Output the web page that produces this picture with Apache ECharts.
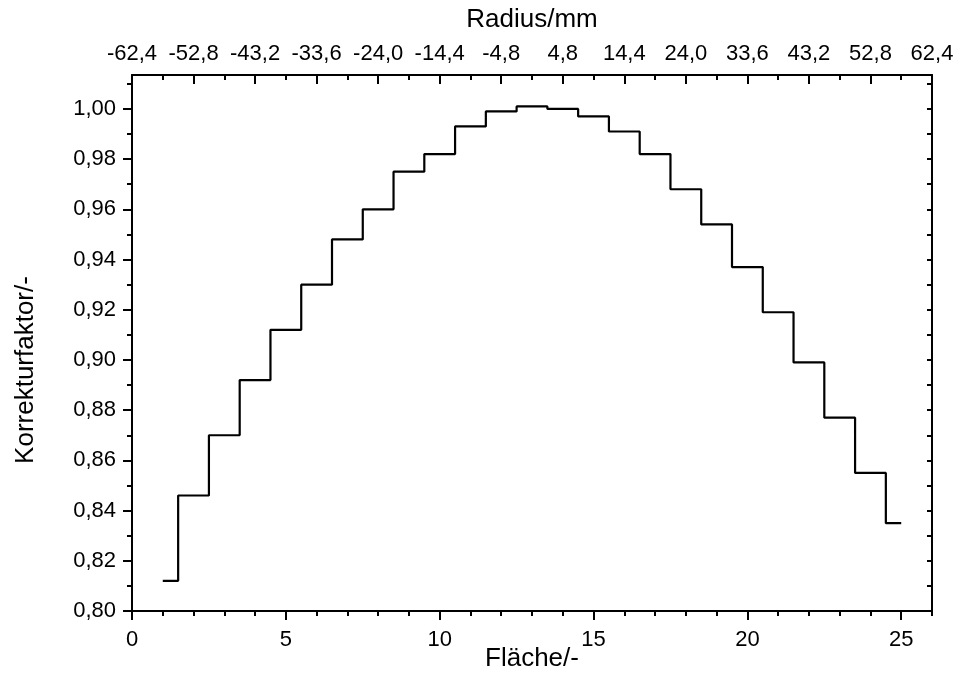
<!DOCTYPE html>
<html>
<head>
<meta charset="utf-8">
<script src="https://cdn.jsdelivr.net/npm/echarts@6/dist/echarts.min.js"></script>
<style>
  html, body { margin: 0; padding: 0; background: #fff; }
  #chart { width: 957px; height: 673px; }
</style>
</head>
<body>
<div id="chart"></div>
<script>
// ---- data ----
const flaeche = [1, 2, 3, 4, 5, 6, 7, 8, 9, 10, 11, 12, 13, 14, 15, 16, 17, 18, 19, 20, 21, 22, 23, 24, 25];
const korrekturfaktor = [0.812, 0.846, 0.870, 0.892, 0.912, 0.930, 0.948, 0.960, 0.975, 0.982,
                         0.993, 0.999, 1.001, 1.000, 0.997, 0.991, 0.982, 0.968, 0.954, 0.937,
                         0.919, 0.899, 0.877, 0.855, 0.835];
const radiusLabels = ['-62,4', '-52,8', '-43,2', '-33,6', '-24,0', '-14,4', '-4,8',
                      '4,8', '14,4', '24,0', '33,6', '43,2', '52,8', '62,4'];
const bottomMajorTicks = [0, 5, 10, 15, 20, 25];
const yMajorTicks = [0.80, 0.82, 0.84, 0.86, 0.88, 0.90, 0.92, 0.94, 0.96, 0.98, 1.00];
const yMinorTicks = [0.80, 0.81, 0.82, 0.83, 0.84, 0.85, 0.86, 0.87, 0.88, 0.89, 0.90, 0.91,
                     0.92, 0.93, 0.94, 0.95, 0.96, 0.97, 0.98, 0.99, 1.00, 1.01];

const X_MIN = 0, X_MAX = 26, Y_MIN = 0.80, Y_MAX = 1.0135;
const FONT = 'Arial, "Liberation Sans", sans-serif';
const black = '#000';
const TICK_FS = 22, TITLE_FS = 26;

const chart = echarts.init(document.getElementById('chart'), null, { renderer: 'canvas' });

function baseX(pos, extra) {
  return Object.assign({
    type: 'value', position: pos, min: X_MIN, max: X_MAX,
    splitLine: { show: false },
    axisLine: { show: false, lineStyle: { color: black, width: 2 } },
    axisTick: { show: false },
    axisLabel: { show: false },
    nameMoveOverlap: false
  }, extra);
}
function baseY(pos, extra) {
  return Object.assign({
    type: 'value', position: pos, min: Y_MIN, max: Y_MAX,
    splitLine: { show: false },
    axisLine: { show: false, lineStyle: { color: black, width: 2 } },
    axisTick: { show: false },
    axisLabel: { show: false },
    nameMoveOverlap: false
  }, extra);
}

const option = {
  animation: false,
  backgroundColor: '#fff',
  grid: { left: 132, right: 25, top: 75, bottom: 62, containLabel: false, outerBoundsMode: 'none' },
  xAxis: [
    // bottom: minor ticks + labels + name
    baseX('bottom', {
      interval: 1,
      axisLine: { show: true, onZero: false, lineStyle: { color: black, width: 2 } },
      axisTick: { show: true, inside: false, length: 5, lineStyle: { color: black, width: 2 } },
      axisLabel: {
        show: true, margin: 18, color: black, fontFamily: FONT, fontSize: TICK_FS,
        formatter: function (v) { return (Math.round(v) % 5 === 0 && v <= 25) ? String(Math.round(v)) : ''; }
      },
      name: 'Fläche/-', nameLocation: 'middle', nameGap: 35,
      nameTextStyle: { color: black, fontFamily: FONT, fontSize: TITLE_FS }
    }),
    // bottom: major ticks
    baseX('bottom', {
      interval: 5,
      axisTick: { show: true, inside: false, length: 9, customValues: bottomMajorTicks, lineStyle: { color: black, width: 2 } }
    }),
    // top: minor ticks
    baseX('top', {
      interval: 1,
      axisLine: { show: true, onZero: false, lineStyle: { color: black, width: 2 } },
      axisTick: { show: true, inside: true, length: 5, lineStyle: { color: black, width: 2 } }
    }),
    // top: major ticks + radius labels + name
    baseX('top', {
      interval: 2,
      axisTick: { show: true, inside: true, length: 9, lineStyle: { color: black, width: 2 } },
      axisLabel: {
        show: true, margin: 10, color: black, fontFamily: FONT, fontSize: TICK_FS,
        formatter: function (v) { const i = Math.round(v / 2); return radiusLabels[i] !== undefined ? radiusLabels[i] : ''; }
      },
      name: 'Radius/mm', nameLocation: 'middle', nameGap: 42,
      nameTextStyle: { color: black, fontFamily: FONT, fontSize: TITLE_FS }
    })
  ],
  yAxis: [
    // left: minor ticks + labels + name
    baseY('left', {
      interval: 0.01,
      axisLine: { show: true, onZero: false, lineStyle: { color: black, width: 2 } },
      axisTick: { show: true, inside: false, length: 5, customValues: yMinorTicks, lineStyle: { color: black, width: 2 } },
      axisLabel: {
        show: true, margin: 16, color: black, fontFamily: FONT, fontSize: TICK_FS,
        formatter: function (v) {
          const k = Math.round(v * 100);
          if (k % 2 !== 0 || k > 100) return '';
          return (k / 100).toFixed(2).replace('.', ',');
        }
      },
      name: 'Korrekturfaktor/-', nameLocation: 'middle', nameGap: 93, nameRotate: 90,
      nameTextStyle: { color: black, fontFamily: FONT, fontSize: TITLE_FS, padding: [0, 54, 0, 0] }
    }),
    // left: major ticks
    baseY('left', {
      interval: 0.02,
      axisTick: { show: true, inside: false, length: 9, customValues: yMajorTicks, lineStyle: { color: black, width: 2 } }
    }),
    // right: minor ticks
    baseY('right', {
      interval: 0.01,
      axisLine: { show: true, onZero: false, lineStyle: { color: black, width: 2 } },
      axisTick: { show: true, inside: true, length: 5, customValues: yMinorTicks, lineStyle: { color: black, width: 2 } }
    }),
    // right: major ticks
    baseY('right', {
      interval: 0.02,
      axisTick: { show: true, inside: true, length: 9, customValues: yMajorTicks, lineStyle: { color: black, width: 2 } }
    })
  ],
  series: [{
    type: 'line',
    step: 'middle',
    xAxisIndex: 0,
    yAxisIndex: 0,
    data: flaeche.map(function (x, i) { return [x, korrekturfaktor[i]]; }),
    showSymbol: false,
    symbol: 'none',
    lineStyle: { color: black, width: 2.2 },
    silent: true
  }]
};

chart.setOption(option);
</script>
</body>
</html>
